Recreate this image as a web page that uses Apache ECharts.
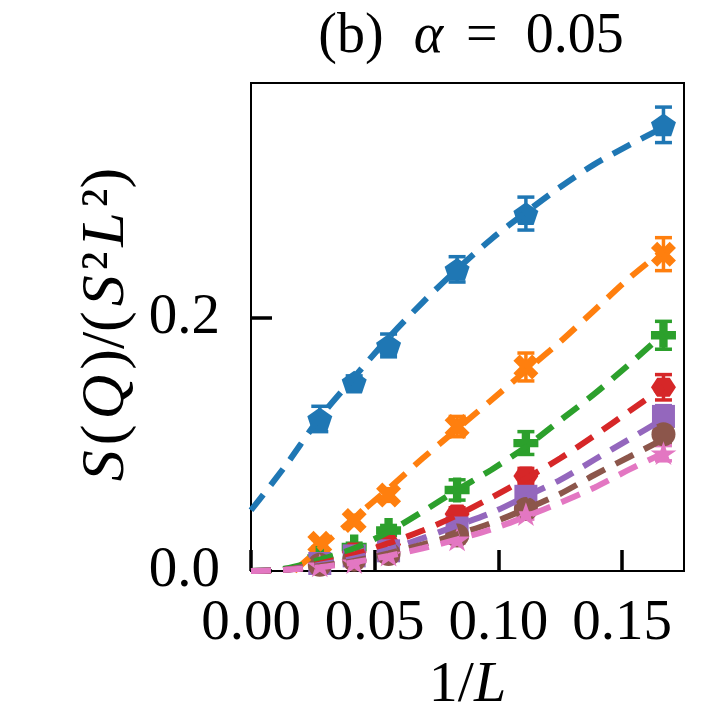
<!DOCTYPE html>
<html>
<head>
<meta charset="utf-8">
<script src="https://cdn.jsdelivr.net/npm/echarts@6.0.0/dist/echarts.min.js"></script>
<style>html,body{margin:0;padding:0;background:#fff;}#c{width:720px;height:720px;}</style>
</head>
<body>
<div id="c"></div>
<script>
// x positions: 1/L for L = 36, 24, 18, 12, 9, 6
const xs = [0.0278, 0.0417, 0.0556, 0.0833, 0.1111, 0.1667];

// measured values (S(Q)/(S^2 L^2)) and error bars per series
const blueY   = [0.120, 0.149, 0.178, 0.238, 0.282, 0.352];
const blueE   = [0.010, 0.005, 0.009, 0.010, 0.013, 0.014];
const orangeY = [0.022, 0.040, 0.060, 0.114, 0.161, 0.250];
const orangeE = [0.003, 0.004, 0.005, 0.008, 0.011, 0.013];
const greenY  = [0.010, 0.019, 0.032, 0.064, 0.101, 0.186];
const greenE  = [0.002, 0.003, 0.004, 0.008, 0.009, 0.011];
const redY    = [0.007, 0.015, 0.021, 0.045, 0.075, 0.145];
const redE    = [0.002, 0.002, 0.003, 0.005, 0.006, 0.010];
const purpleY = [0.006, 0.012, 0.016, 0.034, 0.059, 0.122];
const purpleE = [0.001, 0.002, 0.003, 0.004, 0.005, 0.0085];
const brownY  = [0.005, 0.009, 0.0135, 0.028, 0.049, 0.108];
const brownE  = [0.001, 0.002, 0.002, 0.004, 0.005, 0.007];
const pinkY   = [0.0045, 0.007, 0.013, 0.025, 0.045, 0.093];
const pinkE   = [0.001, 0.001, 0.002, 0.003, 0.004, 0.006];

// fitted dashed curves
const fitX      = [0, 0.0139, 0.0278, 0.0417, 0.0556, 0.0694, 0.0833, 0.0972, 0.1111, 0.125, 0.1389, 0.1528, 0.1667];
const blueFit   = [0.048, 0.083, 0.121, 0.153, 0.184, 0.212, 0.238, 0.262, 0.283, 0.303, 0.321, 0.336, 0.350];
const orangeFitX= [0.0175, 0.0278, 0.0417, 0.0556, 0.0694, 0.0833, 0.0972, 0.1111, 0.125, 0.1389, 0.1528, 0.1667];
const orangeFit = [0, 0.018, 0.042, 0.065, 0.089, 0.112, 0.135, 0.158, 0.181, 0.206, 0.231, 0.253];
const greenFit  = [0, 0.002, 0.009, 0.018, 0.031, 0.047, 0.064, 0.080, 0.098, 0.119, 0.140, 0.163, 0.187];
const redFit    = [0, 0.001, 0.006, 0.013, 0.022, 0.032, 0.044, 0.058, 0.073, 0.089, 0.107, 0.126, 0.145];
const purpleFit = [0, 0.001, 0.005, 0.010, 0.017, 0.026, 0.036, 0.046, 0.059, 0.072, 0.088, 0.104, 0.120];
const brownFit  = [0, 0.001, 0.004, 0.008, 0.014, 0.021, 0.029, 0.038, 0.049, 0.061, 0.076, 0.090, 0.104];
const pinkFit   = [0, 0.001, 0.003, 0.007, 0.012, 0.018, 0.025, 0.033, 0.043, 0.054, 0.066, 0.080, 0.093];

const xTicks = [0, 0.05, 0.10, 0.15];
const yTicks = [0, 0.2];

const FONT = 'Liberation Serif';

const SYM = {
  pentagon: 'path://M50,0 L97.55,34.55 L79.39,90.45 L20.61,90.45 L2.45,34.55 Z',
  xfill: 'path://M42.42,0 L28.28,14.14 L14.14,0 L0,14.14 L14.14,28.28 L0,42.42 L14.14,56.57 L28.28,42.42 L42.42,56.57 L56.57,42.42 L42.42,28.28 L56.57,14.14 Z',
  plus: 'path://M20,0 L20,20 L0,20 L0,40 L20,40 L20,60 L40,60 L40,40 L60,40 L60,20 L40,20 L40,0 Z',
  hexagon: 'path://M100,43.3 L75,86.6 L25,86.6 L0,43.3 L25,0 L75,0 Z',
  star: 'path://M50,0 L61.23,34.55 L97.55,34.55 L68.16,55.9 L79.39,90.45 L50,69.1 L20.61,90.45 L31.84,55.9 L2.45,34.55 L38.77,34.55 Z'
};

const groups = [
  {color:'#1f77b4', y:blueY,   e:blueE,   fx:fitX,       f:blueFit,   sym:SYM.pentagon, size:[25,24]},
  {color:'#ff7f0e', y:orangeY, e:orangeE, fx:orangeFitX, f:orangeFit, sym:SYM.xfill,    size:[25,25]},
  {color:'#2ca02c', y:greenY,  e:greenE,  fx:fitX,       f:greenFit,  sym:SYM.plus,     size:[25,25]},
  {color:'#d62728', y:redY,    e:redE,    fx:fitX,       f:redFit,    sym:SYM.hexagon,  size:[25,22]},
  {color:'#9467bd', y:purpleY, e:purpleE, fx:fitX,       f:purpleFit, sym:'rect',       size:[23,23]},
  {color:'#8c564b', y:brownY,  e:brownE,  fx:fitX,       f:brownFit,  sym:'circle',     size:[24,24]},
  {color:'#e377c2', y:pinkY,   e:pinkE,   fx:fitX,       f:pinkFit,   sym:SYM.star,     size:[26,25]}
];

const series = [];
groups.forEach(g => {
  series.push({
    type: 'custom',
    silent: true,
    clip: false,
    data: xs.map((x, i) => [x, g.y[i] - g.e[i], g.y[i] + g.e[i]]),
    encode: {x: 0, y: [1, 2]},
    renderItem: function (params, api) {
      const x = api.value(0), lo = api.value(1), hi = api.value(2);
      const p1 = api.coord([x, lo]), p2 = api.coord([x, hi]);
      const w = 8.5;
      const st = {stroke: g.color, lineWidth: 3.5};
      return {type: 'group', children: [
        {type: 'line', shape: {x1: p1[0], y1: p1[1], x2: p2[0], y2: p2[1]}, style: st},
        {type: 'line', shape: {x1: p1[0] - w, y1: p1[1], x2: p1[0] + w, y2: p1[1]}, style: st},
        {type: 'line', shape: {x1: p2[0] - w, y1: p2[1], x2: p2[0] + w, y2: p2[1]}, style: st}
      ]};
    }
  });
  series.push({
    type: 'scatter',
    silent: true,
    data: xs.map((x, i) => [x, g.y[i]]),
    symbol: g.sym,
    symbolSize: g.size,
    symbolKeepAspect: true,
    itemStyle: {color: g.color, opacity: 1},
    clip: false
  });
  series.push({
    type: 'line',
    silent: true,
    data: g.fx.map((x, i) => [x, g.f[i]]),
    showSymbol: false,
    symbol: 'none',
    smooth: 0.3,
    clip: true,
    lineStyle: {color: g.color, width: 6, type: [20, 12]}
  });
});

const chart = echarts.init(document.getElementById('c'), null, {renderer: 'canvas'});
chart.setOption({
  animation: false,
  backgroundColor: '#ffffff',
  title: {
    text: '{n|(b)}{a|α}{n|=}{v|0.05}',
    left: 466,
    top: 4,
    textAlign: 'center',
    textStyle: {
      fontWeight: 'normal',
      rich: {
        n: {fontFamily: FONT, fontSize: 56, fontWeight: 'normal', color: '#000'},
        a: {fontFamily: FONT, fontSize: 56, fontWeight: 'normal', fontStyle: 'italic', color: '#000', padding: [0, 23, 0, 30]},
        v: {fontFamily: FONT, fontSize: 56, fontWeight: 'normal', color: '#000', padding: [0, 0, 0, 28]}
      }
    }
  },
  grid: {left: 251, right: 36, top: 83, bottom: 144, show: true, borderColor: '#000', borderWidth: 2, backgroundColor: 'transparent'},
  xAxis: {
    type: 'value',
    min: 0, max: 0.175,
    interval: 0.05,
    splitLine: {show: false},
    axisLine: {show: true, lineStyle: {color: '#000', width: 2}},
    axisTick: {show: true, inside: true, length: 21, lineStyle: {color: '#000', width: 3.5}, customValues: xTicks},
    axisLabel: {
      customValues: xTicks,
      margin: 24,
      fontFamily: FONT, fontSize: 57, color: '#000',
      formatter: v => v.toFixed(2)
    },
    name: '{n|1/}{i|L}',
    nameLocation: 'middle',
    nameGap: 78,
    nameTextStyle: {
      rich: {
        n: {fontFamily: FONT, fontSize: 58, color: '#000'},
        i: {fontFamily: FONT, fontSize: 58, fontStyle: 'italic', color: '#000'}
      }
    }
  },
  yAxis: {
    type: 'value',
    min: 0, max: 0.385,
    interval: 0.2,
    splitLine: {show: false},
    axisLine: {show: true, lineStyle: {color: '#000', width: 2}},
    axisTick: {show: true, inside: true, length: 21, lineStyle: {color: '#000', width: 3.5}, customValues: yTicks},
    axisLabel: {
      customValues: yTicks,
      margin: 31,
      fontFamily: FONT, fontSize: 57, color: '#000',
      formatter: v => v.toFixed(1)
    },
    name: '{i|S}{n|(}{i|Q}{n|)/(}{i|S}{n|²}{i|L}{n|²)}',
    nameLocation: 'middle',
    nameRotate: 90,
    nameGap: 110,
    nameTextStyle: {
      rich: {
        n: {fontFamily: FONT, fontSize: 62, color: '#000'},
        i: {fontFamily: FONT, fontSize: 62, fontStyle: 'italic', color: '#000', padding: [0, 5, 0, 5]}
      }
    }
  },
  series: series
});
</script>
</body>
</html>
